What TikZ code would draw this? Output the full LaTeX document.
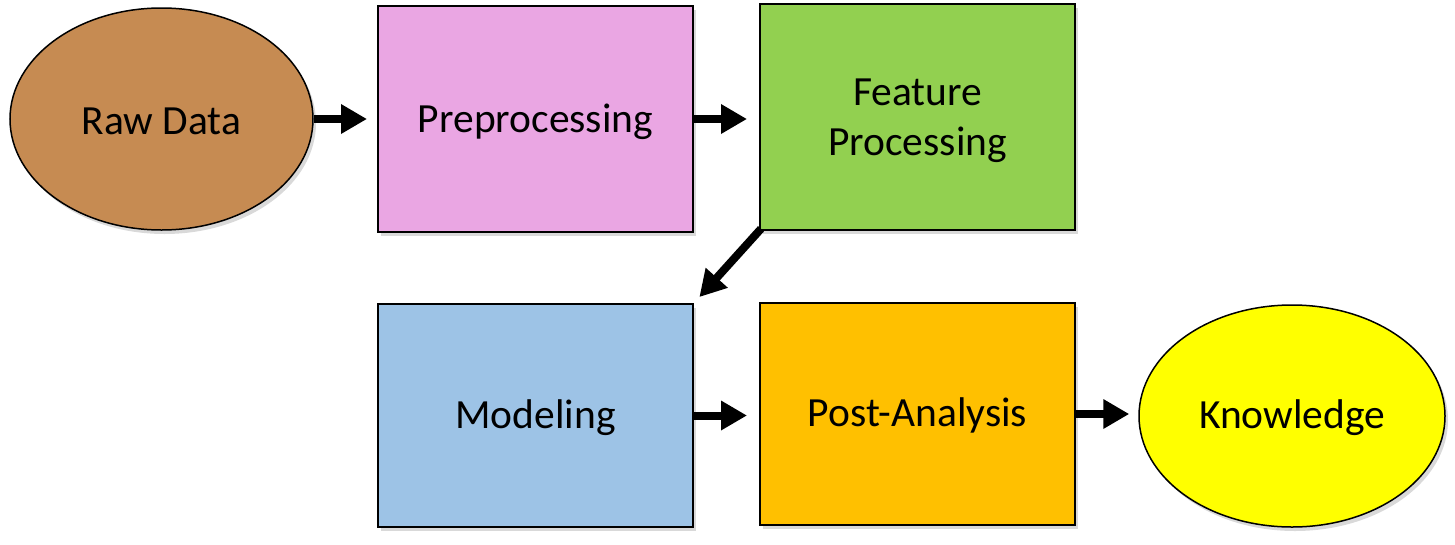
\documentclass[tikz,border=0pt]{standalone}
\usepackage{fontspec}
\setmainfont{Carlito}
\usetikzlibrary{shapes.geometric,arrows.meta,shadows}
\definecolor{rawc}{HTML}{C68B52}
\definecolor{prec}{HTML}{EAA6E3}
\definecolor{featc}{HTML}{92D050}
\definecolor{modc}{HTML}{9DC3E6}
\definecolor{postc}{HTML}{FFC000}
\definecolor{knowc}{HTML}{FFFF00}
\tikzset{
  x=1pt, y=-1pt,
  shad/.style={drop shadow={opacity=0.3, shadow xshift=3pt, shadow yshift=-4pt}},
  boxnode/.style={rectangle, draw=black, line width=2pt, minimum width=315pt, minimum height=226pt, inner sep=0pt, align=center, font=\fontsize{41.5}{50}\selectfont, shad},
  ellnode/.style={ellipse, draw=black, line width=1.5pt, minimum width=303pt, minimum height=222pt, inner sep=0pt, align=center, font=\fontsize{41.5}{50}\selectfont, shad},
  flow/.style={line width=8pt, -{Triangle[length=26pt,width=28pt]}}
}
\begin{document}
\begin{tikzpicture}
\useasboundingbox (0,0) rectangle (1455,544);
\node[ellnode, fill=rawc] (raw) at (161.5,119) {};
\node[font=\fontsize{41.5}{50}\selectfont] (rawt) at (161.5,121) {Raw Data};
\node[boxnode, fill=prec] (pre) at (535.5,119) {};
\node[font=\fontsize{41.5}{50}\selectfont] (pret) at (535.5,122) {Preprocessing};
\node[boxnode, fill=featc] (feat) at (917.5,117) {};
\node[font=\fontsize{41.5}{50}\selectfont, align=center] (featt) at (917.5,121) {Feature\\Processing};
\node[boxnode, fill=modc, minimum height=223pt] (mod) at (535.5,415.5) {};
\node[font=\fontsize{41.5}{50}\selectfont] (modt) at (535.5,418) {Modeling};
\node[boxnode, fill=postc, minimum height=222pt] (post) at (917.5,414) {};
\node[font=\fontsize{41.5}{50}\selectfont] (postt) at (917.5,415) {Post-Analysis};
\node[ellnode, fill=knowc, minimum width=306pt] (know) at (1292,416) {};
\node[font=\fontsize{41.5}{50}\selectfont] (knowt) at (1292,418) {Knowledge};
\draw[flow, shorten >=10pt] (raw.east) -- (raw.east -| pre.west);
\draw[flow, shorten >=12pt] (pre.east) -- (pre.east -| feat.west);
\draw[flow, shorten <=-3pt, shorten >=8pt] (feat.south west) -- (mod.north east);
\draw[flow, shorten >=12pt] (mod.east) -- (mod.east -| post.west);
\draw[flow, shorten >=9pt] (post.east) -- (post.east -| know.west);
\end{tikzpicture}
\end{document}
